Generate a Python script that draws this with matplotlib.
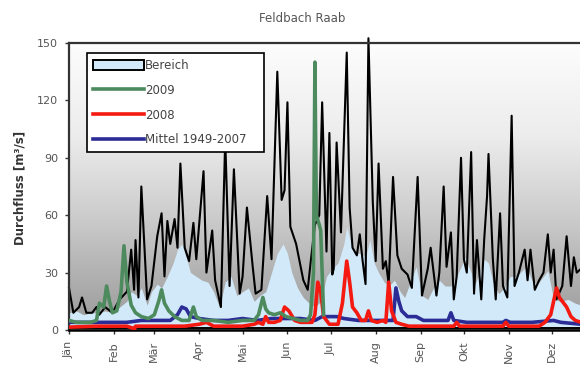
import numpy as np
import matplotlib.pyplot as plt
from matplotlib.colors import LinearSegmentedColormap
from matplotlib.patches import Patch
from matplotlib.lines import Line2D

plt.rcParams['font.family'] = ['DejaVu Sans']

months = ["Jän", "Feb", "Mär", "Apr", "Mai", "Jun", "Jul", "Aug", "Sep", "Okt", "Nov", "Dez"]
month_start = [0, 31, 59, 90, 120, 151, 181, 212, 243, 273, 304, 334]

# Bereich: daily maximum (black line)
max_days = [0, 3, 7, 9, 12, 16, 19, 21, 25, 30, 35, 40, 43, 45, 46, 48, 50, 54, 57, 61,
            64, 66, 68, 70, 73, 75, 77, 80, 83, 86, 88, 93, 95, 99, 101, 105, 108, 111, 114, 118,
            120, 123, 127, 129, 133, 137, 140, 144, 147, 149, 151, 153, 157, 162, 165, 167, 170, 173, 175, 178,
            180, 182, 183, 185, 188, 192, 194, 196, 199, 201, 203, 205, 207, 210, 212, 214, 217, 219, 221, 224,
            227, 230, 234, 237, 241, 244, 248, 250, 254, 256, 259, 261, 264, 266, 268, 271, 273, 275, 278, 280,
            282, 285, 287, 289, 290, 293, 295, 298, 300, 303, 306, 308, 311, 315, 317, 319, 322, 325, 328, 331,
            333, 335, 337, 341, 344, 347, 349, 351, 354]
max_vals = [22, 9, 12, 17, 9, 9, 12, 8, 12, 9, 16, 20, 42, 21, 47, 17, 75, 16, 23, 49,
            61, 28, 57, 45, 58, 43, 87, 43, 36, 56, 37, 83, 30, 52, 26, 12, 100, 23, 84, 19,
            28, 64, 33, 19, 21, 70, 37, 135, 68, 73, 119, 54, 45, 26, 21, 35, 55, 60, 119, 41,
            103, 29, 32, 98, 51, 145, 64, 43, 39, 50, 36, 24, 152.5, 67, 36, 87, 32, 36, 24, 80,
            39, 32, 29, 22, 80, 18, 32, 43, 18, 30, 75, 33, 51, 16, 28, 90, 37, 30, 93, 19,
            47, 16, 47, 70, 92, 37, 16, 61, 23, 17, 112, 23, 30, 42, 26, 42, 21, 26, 30, 50,
            30, 42, 16, 23, 49, 23, 38, 30, 32]

# Bereich: upper edge of the light blue band
band_days = [0, 5, 10, 15, 20, 25, 30, 35, 40, 43, 47, 50, 54, 57, 61, 64, 68, 72, 75, 78,
             81, 84, 88, 92, 96, 100, 104, 108, 112, 116, 120, 124, 128, 132, 136, 140, 144, 148, 151, 154,
             158, 162, 166, 170, 174, 178, 182, 186, 190, 192, 195, 198, 202, 205, 208, 211, 214, 218, 221, 225,
             229, 232, 236, 240, 244, 248, 252, 256, 260, 264, 268, 271, 274, 278, 280, 284, 287, 290, 293, 297,
             301, 305, 309, 312, 316, 320, 324, 328, 331, 335, 340, 345, 350, 354]
band_vals = [9, 10, 8, 9, 9, 10, 9, 12, 15, 20, 18, 22, 13, 20, 24, 22, 28, 35, 42, 45,
             38, 30, 28, 26, 25, 20, 12, 25, 28, 18, 20, 22, 15, 18, 20, 30, 40, 45, 40, 30,
             22, 17, 14, 12, 15, 28, 32, 35, 45, 54, 45, 40, 40, 38, 47, 35, 30, 25, 23, 26,
             20, 17, 25, 33, 18, 16, 22, 26, 23, 23, 28, 33, 38, 30, 23, 30, 37, 35, 25, 19,
             22, 28, 28, 30, 33, 26, 24, 28, 31, 16, 15, 16, 14, 13]
min_days = [0, 354]
min_vals = [0.8, 0.8]

y2009_days = [0, 5, 10, 15, 19, 21, 24, 26, 28, 30, 33, 36, 38, 40, 43, 46, 50, 55, 59, 62,
              64, 66, 69, 73, 78, 83, 86, 88, 92, 100, 110, 120, 128, 131, 134, 136, 138, 142, 146, 150,
              155, 160, 165, 167, 169, 170, 171, 173, 174, 175, 176]
y2009_vals = [5, 4, 4, 4, 5, 14, 12, 23, 15, 9, 10, 20, 44, 25, 13, 9, 7, 6, 8, 15,
              21, 14, 10, 7, 5, 5, 12, 7, 5, 5, 4, 5, 5, 8, 17, 11, 9, 8, 9, 7,
              6, 5, 5, 8, 30, 140, 60, 55, 52, 30, 8]

y2008_days = [0, 19, 30, 40, 44, 45, 46, 55, 65, 72, 80, 90, 95, 100, 110, 120, 128, 131, 134, 136,
              138, 142, 146, 149, 152, 156, 160, 165, 168, 170, 172, 174, 176, 180, 186, 189, 192, 194, 196, 199,
              202, 205, 207, 209, 213, 217, 219, 221, 223, 226, 230, 235, 245, 255, 266, 268, 270, 280, 290, 300,
              302, 304, 315, 325, 329, 333, 335, 337, 339, 341, 344, 347, 350, 354]
y2008_vals = [1.5, 2, 2, 2, 1, 0, 2, 2, 2, 2, 2, 3, 4, 2, 2, 2, 3, 4, 3, 7,
              4, 4, 5, 12, 10, 5, 4, 4, 4, 8, 25, 20, 7, 3, 3, 14, 36, 25, 12, 9,
              5, 5, 10, 5, 4, 5, 4, 25, 10, 4, 3, 2, 2, 2, 2, 4, 2, 2, 2, 2,
              4, 2, 2, 2, 4, 8, 15, 22, 17, 15, 12, 7, 5, 4]

mittel_days = [0, 20, 30, 40, 50, 60, 70, 75, 78, 81, 84, 90, 100, 110, 120, 130, 140, 150, 160, 170,
               175, 185, 190, 200, 215, 224, 226, 228, 230, 234, 240, 245, 255, 262, 264, 266, 275, 300, 302, 305,
               320, 335, 340, 354]
mittel_vals = [4, 4, 4, 4, 5, 5, 5, 8, 12, 11, 7, 6, 5, 5, 6, 5, 6, 6, 6, 5,
               7, 7, 6, 5, 5, 5, 22, 15, 10, 7, 7, 5, 5, 5, 9, 5, 4, 4, 5, 4,
               4, 5, 4, 3]

fig = plt.figure(figsize=(5.8, 3.71), dpi=100)
ax = fig.add_axes([69 / 580, 41 / 371, 528 / 580, 287 / 371])

# grey gradient background
grad_cmap = LinearSegmentedColormap.from_list(
    "bg", [(0, "#9a9a9a"), (0.2, "#b2b2b2"), (0.4, "#cdcdcd"), (0.67, "#ececec"), (1, "#fdfdfd")])
g = np.linspace(0, 1, 256).reshape(-1, 1)
ax.imshow(g, extent=[0, 365, 0, 150], origin="lower", aspect="auto", cmap=grad_cmap, zorder=0)

fill_col = "#d2e9f9"
ax.fill_between(band_days, np.interp(band_days, min_days, min_vals), band_vals,
                color=fill_col, lw=0, zorder=1)
ax.plot(max_days, max_vals, color="black", lw=1.5, zorder=2, clip_on=False)
ax.plot(min_days, min_vals, color="black", lw=1.4, zorder=2)

blue = "#2b2c96"
red = "#f41a12"
green = "#4d8a5e"
ax.plot(mittel_days, mittel_vals, color=blue, lw=2.6, zorder=3)
ax.plot(y2008_days, y2008_vals, color=red, lw=2.6, zorder=4)
ax.plot(y2009_days, y2009_vals, color=green, lw=2.6, zorder=5)

ax.set_xlim(0, 365)
ax.set_ylim(0, 150)
ax.set_yticks([0, 30, 60, 90, 120, 150])
ax.set_xticks(month_start)
ax.set_xticklabels(months, rotation=90)
ax.tick_params(axis="both", labelsize=8, labelcolor="#555555", length=3, width=1, color="#333333")
ax.tick_params(axis="x", pad=5)
ax.tick_params(axis="y", pad=5)

for s in ["left", "top"]:
    ax.spines[s].set_color("#333333")
    ax.spines[s].set_linewidth(1.6)
ax.spines["bottom"].set_color("black")
ax.spines["bottom"].set_linewidth(1.8)
ax.spines["right"].set_visible(False)

handles = [Patch(facecolor=fill_col, edgecolor="black", linewidth=1.4),
           Line2D([], [], color=green, lw=2.6),
           Line2D([], [], color=red, lw=2.6),
           Line2D([], [], color=blue, lw=2.6)]
labels = ["Bereich", "2009", "2008", "Mittel 1949-2007"]
leg = ax.legend(handles, labels, loc="upper left", mode="expand",
                bbox_to_anchor=(18 / 528, 0.6, 177 / 528, 1 - 10 / 287 - 0.6),
                borderaxespad=0, fontsize=8.5, handlelength=4.3, handleheight=0.9,
                handletextpad=0.1, labelspacing=1.0, borderpad=0.5,
                fancybox=False, framealpha=1, edgecolor="black")
leg.get_frame().set_linewidth(1.2)
for t in leg.get_texts():
    t.set_color("#444444")

fig.text(302 / 580, 1 - 18 / 371, "Feldbach Raab", ha="center", va="center",
         fontsize=8.5, color="#555555")
fig.text(20 / 580, 1 - 188 / 371, "Durchfluss [m³/s]", rotation=90, ha="center", va="center",
         fontsize=8.5, fontweight="bold", color="#333333")

fig.savefig("out.png", dpi=100)
